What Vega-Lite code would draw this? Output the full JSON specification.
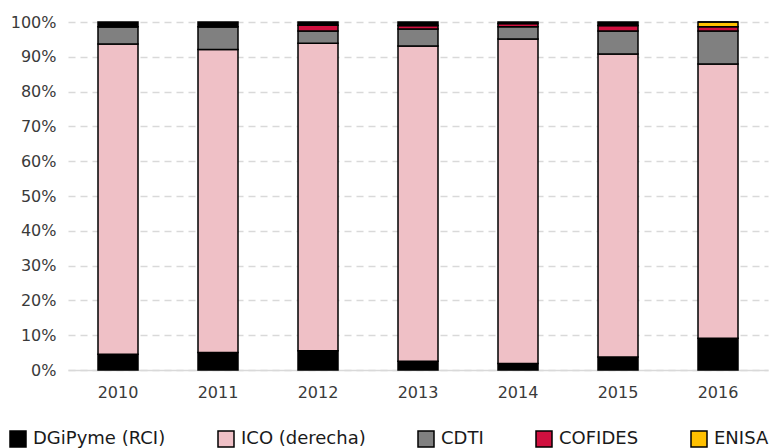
{
  "$schema": "https://vega.github.io/schema/vega-lite/v6.json",
  "autosize": "none",
  "width": 700,
  "height": 348,
  "padding": {"left": 68, "top": 22, "right": 1, "bottom": 78},
  "background": "white",
  "config": {
    "view": {"stroke": null},
    "font": "DejaVu Sans",
    "axis": {"labelFont": "DejaVu Sans", "labelColor": "#3a3a3a", "labelFontSize": 16},
    "legend": {"labelFont": "DejaVu Sans", "labelColor": "#1a1a1a", "labelFontSize": 18}
  },
  "data": {
    "values": [
      {"year": "2010", "fuente": "DGiPyme (RCI)", "share": 0.045},
      {"year": "2010", "fuente": "ICO (derecha)", "share": 0.892},
      {"year": "2010", "fuente": "CDTI", "share": 0.049},
      {"year": "2010", "fuente": "COFIDES", "share": 0.0},
      {"year": "2010", "fuente": "ENISA", "share": 0.0},
      {"year": "2010", "fuente": "Otros", "share": 0.014},
      {"year": "2011", "fuente": "DGiPyme (RCI)", "share": 0.05},
      {"year": "2011", "fuente": "ICO (derecha)", "share": 0.871},
      {"year": "2011", "fuente": "CDTI", "share": 0.065},
      {"year": "2011", "fuente": "COFIDES", "share": 0.0},
      {"year": "2011", "fuente": "ENISA", "share": 0.0},
      {"year": "2011", "fuente": "Otros", "share": 0.014},
      {"year": "2012", "fuente": "DGiPyme (RCI)", "share": 0.055},
      {"year": "2012", "fuente": "ICO (derecha)", "share": 0.884},
      {"year": "2012", "fuente": "CDTI", "share": 0.035},
      {"year": "2012", "fuente": "COFIDES", "share": 0.017},
      {"year": "2012", "fuente": "ENISA", "share": 0.0},
      {"year": "2012", "fuente": "Otros", "share": 0.009},
      {"year": "2013", "fuente": "DGiPyme (RCI)", "share": 0.025},
      {"year": "2013", "fuente": "ICO (derecha)", "share": 0.906},
      {"year": "2013", "fuente": "CDTI", "share": 0.049},
      {"year": "2013", "fuente": "COFIDES", "share": 0.01},
      {"year": "2013", "fuente": "ENISA", "share": 0.0},
      {"year": "2013", "fuente": "Otros", "share": 0.01},
      {"year": "2014", "fuente": "DGiPyme (RCI)", "share": 0.019},
      {"year": "2014", "fuente": "ICO (derecha)", "share": 0.932},
      {"year": "2014", "fuente": "CDTI", "share": 0.035},
      {"year": "2014", "fuente": "COFIDES", "share": 0.01},
      {"year": "2014", "fuente": "ENISA", "share": 0.0},
      {"year": "2014", "fuente": "Otros", "share": 0.004},
      {"year": "2015", "fuente": "DGiPyme (RCI)", "share": 0.037},
      {"year": "2015", "fuente": "ICO (derecha)", "share": 0.871},
      {"year": "2015", "fuente": "CDTI", "share": 0.066},
      {"year": "2015", "fuente": "COFIDES", "share": 0.016},
      {"year": "2015", "fuente": "ENISA", "share": 0.0},
      {"year": "2015", "fuente": "Otros", "share": 0.01},
      {"year": "2016", "fuente": "DGiPyme (RCI)", "share": 0.091},
      {"year": "2016", "fuente": "ICO (derecha)", "share": 0.788},
      {"year": "2016", "fuente": "CDTI", "share": 0.095},
      {"year": "2016", "fuente": "COFIDES", "share": 0.012},
      {"year": "2016", "fuente": "ENISA", "share": 0.014},
      {"year": "2016", "fuente": "Otros", "share": 0.0}
    ]
  },
  "transform": [
    {"calculate": "indexof(['DGiPyme (RCI)', 'ICO (derecha)', 'CDTI', 'COFIDES', 'ENISA', 'Otros'], datum.fuente)", "as": "capa"}
  ],
  "mark": {"type": "bar", "stroke": "black", "strokeWidth": 1.5},
  "encoding": {
    "x": {
      "field": "year",
      "type": "ordinal",
      "title": null,
      "scale": {"paddingInner": 0.6, "paddingOuter": 0.3},
      "axis": {
        "labelAngle": 0,
        "ticks": false,
        "domainColor": "#d9d9d9",
        "domainWidth": 1.5,
        "labelPadding": 14
      }
    },
    "y": {
      "field": "share",
      "type": "quantitative",
      "stack": "zero",
      "title": null,
      "scale": {"domain": [0, 1], "nice": false},
      "axis": {
        "values": [0, 0.1, 0.2, 0.3, 0.4, 0.5, 0.6, 0.7, 0.8, 0.9, 1],
        "format": ".0%",
        "domain": false,
        "ticks": false,
        "labelPadding": 12,
        "gridColor": "#d9d9d9",
        "gridWidth": 1.5,
        "gridDash": [7, 5]
      }
    },
    "order": {"field": "capa", "type": "quantitative", "sort": "ascending"},
    "color": {
      "field": "fuente",
      "type": "nominal",
      "scale": {
        "domain": ["DGiPyme (RCI)", "ICO (derecha)", "CDTI", "COFIDES", "ENISA", "Otros"],
        "range": ["#000000", "#efc0c6", "#808080", "#d0103f", "#ffc000", "#000000"]
      },
      "legend": {
        "title": null,
        "orient": "none",
        "direction": "horizontal",
        "legendX": -59,
        "legendY": 408,
        "values": ["DGiPyme (RCI)", "ICO (derecha)", "CDTI", "COFIDES", "ENISA"],
        "symbolType": "square",
        "symbolSize": 256,
        "symbolStrokeColor": "black",
        "symbolStrokeWidth": 1.5,
        "symbolOpacity": 1,
        "labelOffset": 6,
        "columnPadding": 49
      }
    }
  }
}
